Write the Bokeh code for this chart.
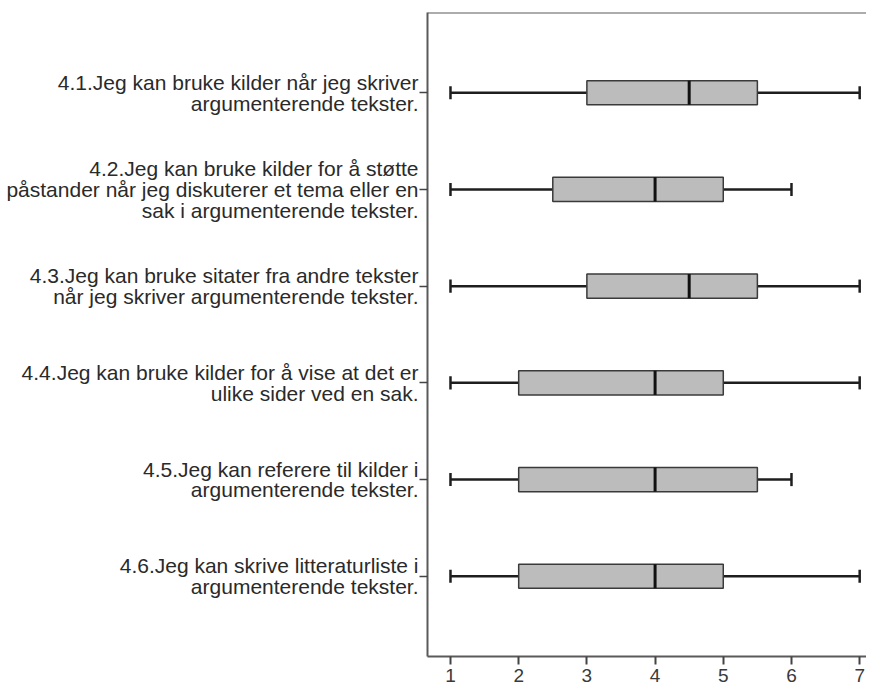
from bokeh.plotting import figure
from bokeh.models import FixedTicker, Span, ColumnDataSource
from bokeh.embed import file_html
from bokeh.resources import INLINE

# Data
labels = [
    "4.1.Jeg kan bruke kilder når jeg skriver\nargumenterende tekster.",
    "4.2.Jeg kan bruke kilder for å støtte\npåstander når jeg diskuterer et tema eller en\nsak i argumenterende tekster.",
    "4.3.Jeg kan bruke sitater fra andre tekster\nnår jeg skriver argumenterende tekster.",
    "4.4.Jeg kan bruke kilder for å vise at det er\nulike sider ved en sak.",
    "4.5.Jeg kan referere til kilder i\nargumenterende tekster.",
    "4.6.Jeg kan skrive litteraturliste i\nargumenterende tekster.",
]
mins = [1, 1, 1, 1, 1, 1]
q1s = [3, 2.5, 3, 2, 2, 2]
medians = [4.5, 4, 4.5, 4, 4, 4]
q3s = [5.5, 5, 5.5, 5, 5.5, 5]
maxs = [7, 6, 7, 7, 6, 7]
x_ticks = [1, 2, 3, 4, 5, 6, 7]

n = len(labels)
ypos = [n - i for i in range(n)]

p = figure(width=866, height=685, output_backend="svg", toolbar_location=None,
           x_range=(0.663, 7.100), y_range=(0.17, 6.83),
           min_border_left=427, min_border_top=12, min_border_bottom=29,
           min_border_right=0)
p.outline_line_color = None
p.xgrid.visible = False
p.ygrid.visible = False
p.background_fill_color = "white"
p.border_fill_color = "white"

cap = 0.068
box_h = 0.25

src = ColumnDataSource(dict(y=ypos, lo=mins, q1=q1s, med=medians, q3=q3s, hi=maxs,
                            ylo=[y - cap for y in ypos], yhi=[y + cap for y in ypos],
                            mlo=[y - box_h / 2 for y in ypos], mhi=[y + box_h / 2 for y in ypos]))

# whiskers
p.segment(x0="lo", y0="y", x1="q1", y1="y", source=src, line_color="#1e1e1e", line_width=2.5)
p.segment(x0="q3", y0="y", x1="hi", y1="y", source=src, line_color="#1e1e1e", line_width=2.5)
# caps
p.segment(x0="lo", y0="ylo", x1="lo", y1="yhi", source=src, line_color="#1e1e1e", line_width=2.5)
p.segment(x0="hi", y0="ylo", x1="hi", y1="yhi", source=src, line_color="#1e1e1e", line_width=2.5)
# boxes
p.hbar(y="y", left="q1", right="q3", height=box_h, source=src,
       fill_color="#bcbcbc", line_color="#3a3a3a", line_width=1.5)
# medians
p.segment(x0="med", y0="mlo", x1="med", y1="mhi", source=src, line_color="#111111", line_width=3)

# top border
p.add_layout(Span(location=6.83, dimension="width", line_color="#5a5a5a", line_width=2))

# x axis
p.xaxis.ticker = FixedTicker(ticks=x_ticks)
p.xaxis.axis_line_color = "#5a5a5a"
p.xaxis.axis_line_width = 2
p.xaxis.major_tick_line_color = "#444444"
p.xaxis.major_tick_line_width = 2
p.xaxis.major_tick_out = 8
p.xaxis.major_tick_in = 0
p.xaxis.minor_tick_line_color = None
p.xaxis.major_label_text_font = "Liberation Sans"
p.xaxis.major_label_text_font_size = "19px"
p.xaxis.major_label_text_color = "#3a3a3a"
p.xaxis.major_label_standoff = 4

# y axis
p.yaxis.ticker = FixedTicker(ticks=ypos)
p.yaxis.major_label_overrides = {y: lab for y, lab in zip(ypos, labels)}
p.yaxis.axis_line_color = "#5a5a5a"
p.yaxis.axis_line_width = 2
p.yaxis.major_tick_line_color = "#444444"
p.yaxis.major_tick_line_width = 1.5
p.yaxis.major_tick_out = 8
p.yaxis.major_tick_in = 0
p.yaxis.minor_tick_line_color = None
p.yaxis.major_label_text_font = "Liberation Sans"
p.yaxis.major_label_text_font_size = "21px"
p.yaxis.major_label_text_color = "#2a2a2a"
p.yaxis.major_label_standoff = 1
p.yaxis.major_label_text_line_height = 0.9

open("out.html", "w").write(file_html(p, INLINE))
